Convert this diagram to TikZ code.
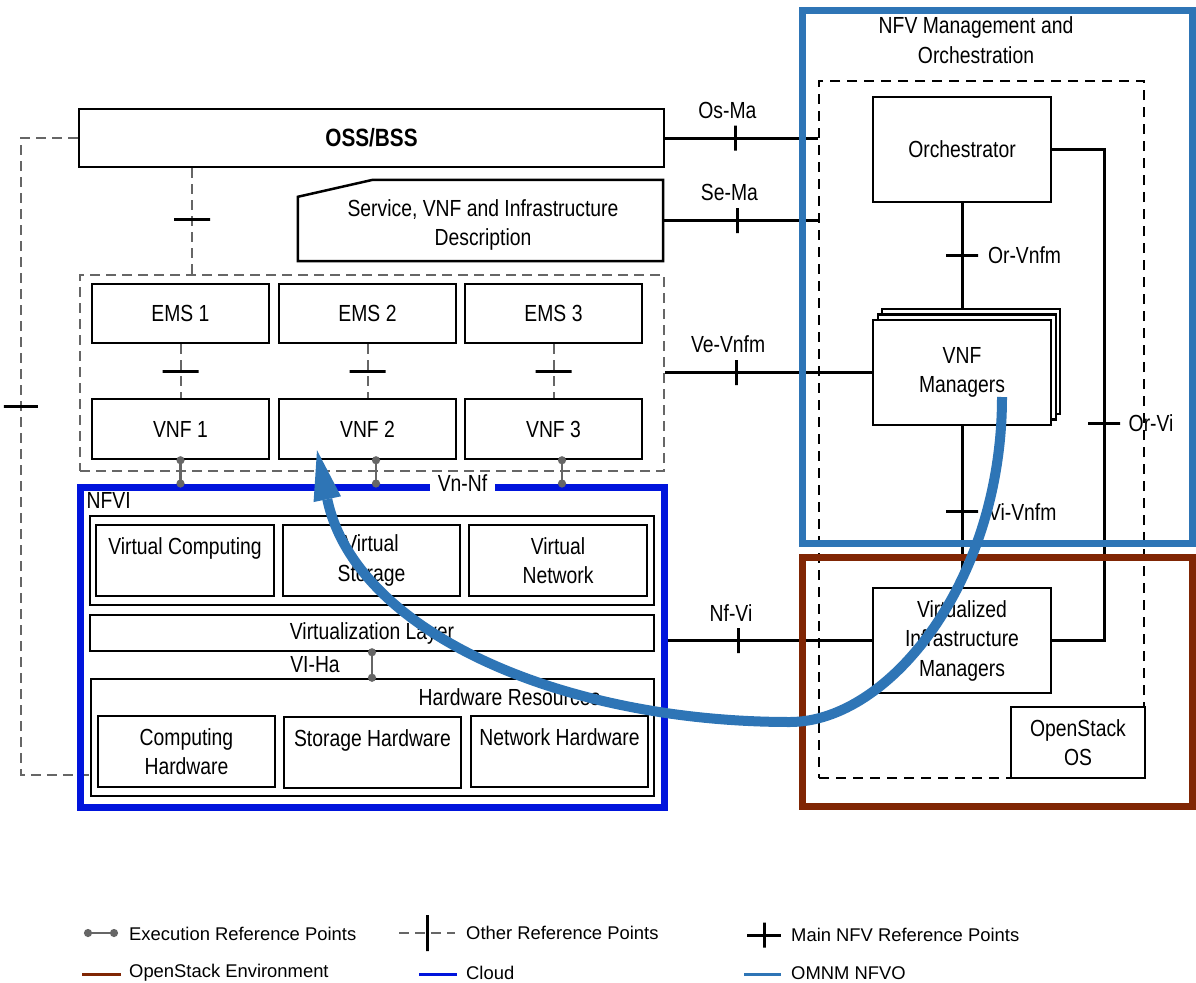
\documentclass[tikz,border=0pt]{standalone}
\usepackage{fontspec}
\setmainfont{Liberation Sans}[FakeStretch=0.83]
\newfontfamily\legendfont{Liberation Sans}
\usetikzlibrary{arrows.meta}
\definecolor{cloudblue}{RGB}{0,20,220}
\definecolor{nfvoblue}{RGB}{46,117,182}
\definecolor{ostkbrown}{RGB}{128,38,4}
\definecolor{refgray}{RGB}{102,102,102}
\tikzset{
  box/.style={draw, line width=2.5pt, fill=white, align=center, inner sep=0pt},
  sz/.style 2 args={minimum width=#1, minimum height=#2},
  frame/.style={draw=#1, line width=7pt, inner sep=0pt},
  mainref/.style={line width=3pt},
  otherref/.style={draw=refgray, line width=2pt, dash pattern=on 10pt off 6pt},
  execref/.style={draw=refgray, line width=2.5pt, {Circle[length=8pt]}-{Circle[length=8pt]}, shorten <=-4pt, shorten >=-4pt},
  vtick/.style={draw=black, solid, line width=3pt, minimum width=0pt, minimum height=25pt, inner sep=0pt},
  htick/.style={draw=black, solid, line width=3pt, minimum width=32pt, minimum height=0pt, inner sep=0pt},
  lbl/.style={inner sep=0pt},
  reflbl/.style={lbl, label distance=4pt, xshift=-8pt},
}
\begin{document}
\begin{tikzpicture}[x=1pt,y=-1pt,font=\fontsize{23.3}{29.5}\selectfont]
\useasboundingbox (0,0) rectangle (1196,982);
% OSS/BSS and descriptors
\node[box, sz={585pt}{58pt}] (oss) at (371.5,138) {\fontsize{25}{29}\selectfont\bfseries OSS/BSS};
\node[lbl, sz={365pt}{81pt}] (svd) at (480.5,220.5) {};
\draw[line width=2.5pt] ([yshift=-17pt]svd.north west) -- ([xshift=75pt]svd.north west) -- (svd.north east) -- (svd.south east) -- (svd.south west) -- cycle;
\node[lbl, align=center] (svdtxt) at (483,225) {Service, VNF and Infrastructure\\Description};

% EMS / VNF group
\node[otherref, sz={584pt}{196pt}] (emsg) at (372,373) {};
\foreach \i/\x in {1/180.5,2/367.5,3/553.5}{
  \node[box, sz={177pt}{59pt}] (ems\i) at (\x,313.5) {EMS \i};
  \node[box, sz={177pt}{60pt}] (vnf\i) at (\x,429) {VNF \i};
  \draw[otherref] (ems\i) -- node[htick, sz={36pt}{0pt}] {} (vnf\i);
}
\coordinate (ossdn) at ([xshift=-179.5pt]oss.south);
\draw[otherref] (ossdn) -- node[htick, sz={36pt}{0pt}, pos=0.48] {} (ossdn |- emsg.north);

% NFVI
\node[draw, line width=2.5pt, sz={564pt}{89pt}] (vgrp) at (372,560.5) {};
\node[box, sz={178pt}{71pt}] (vcomp) at (185,560.5) {Virtual Computing\\~};
\node[box, sz={177pt}{71pt}] (vstor) at (371.5,560.5) {Virtual\\Storage};
\node[box, sz={178pt}{71pt}] (vnet) at (558,560.5) {Virtual\\Network};
\node[box, sz={564pt}{36pt}] (vlayer) at (372,633) {Virtualization Layer};
\node[box, sz={563pt}{117pt}] (hwres) at (372.5,737.5) {};
\node[lbl] (hwlbl) at (509.5,697) {Hardware Resources};
\node[box, sz={177pt}{71pt}] (chw) at (186.5,751.5) {Computing\\Hardware};
\node[box, sz={177pt}{71pt}] (shw) at (372.5,752.5) {Storage Hardware\\~};
\node[box, sz={177pt}{71pt}] (nhw) at (559.5,751.5) {Network Hardware\\~};
\draw[execref] (vlayer.south) -- node[lbl, left=31pt] (viha) {VI-Ha} (vlayer.south |- hwres.north);

\draw[otherref] (oss.west) -- ++(-57,0) coordinate (lft) |- ([yshift=-37.5pt]hwres.west);
\node[htick, sz={34pt}{0pt}] (ltick) at (lft |- 0,406) {};

\node[frame=cloudblue, sz={584pt}{320pt}] (nfvi) at (372,647) {};
\node[lbl, anchor=north west] (nfvilbl) at ([xshift=10pt,yshift=-9pt]nfvi.north west) {NFVI};
\foreach \i/\d in {1/0,2/8.5,3/8.5}{
  \draw[execref] ([xshift=\d pt]vnf\i.south) coordinate (ex\i) -- (ex\i |- nfvi.north);
}
\node[lbl, fill=white, minimum width=65pt] (vnnf) at (462.5,483) {Vn-Nf};

% MANO
\node[draw, line width=2.5pt, dash pattern=on 10pt off 7pt, sz={325pt}{697pt}] (mano) at (981.5,429.5) {};
\node[lbl, align=center] (manottl) at (976,40) {NFV Management and\\Orchestration};
\node[box, sz={178pt}{105pt}] (orch) at (962,149.5) {Orchestrator};
\node[box, sz={178pt}{105pt}] (vnfm3) at (971,361.5) {};
\node[box, sz={178pt}{105pt}] (vnfm2) at (967,367) {};
\node[box, sz={178pt}{105pt}] (vnfm) at (962,372.5) {VNF\\Managers};
\node[box, sz={178pt}{105pt}] (vim) at (962,640.5) {Virtualized\\Infrastructure\\Managers};
\node[box, sz={134pt}{71pt}] (osos) at (1078,742.5) {OpenStack\\OS};

% main reference points
\draw[mainref] (oss.east) -- node[vtick, pos=0.46, label={[reflbl]above:Os-Ma}] {} (oss.east -| mano.west);
\draw[mainref] (svd.east) -- node[vtick, pos=0.48, label={[reflbl]above:Se-Ma}] {} (svd.east -| mano.west);
\draw[mainref] (vnfm.west -| emsg.east) -- node[vtick, pos=0.344, label={[reflbl]above:Ve-Vnfm}] {} (vnfm.west);
\draw[mainref] (vim.west -| nfvi.east) -- node[vtick, pos=0.35, label={[reflbl]above:Nf-Vi}] {} (vim.west);
\draw[mainref] (orch.south) -- node[htick, pos=0.5, label={[lbl, label distance=7pt]right:Or-Vnfm}] {} (orch.south |- vnfm3.north);
\draw[mainref] (vnfm.south) -- node[htick, pos=0.534, label={[lbl, label distance=7pt]right:Vi-Vnfm}] {} (vim.north);
\coordinate (orvi) at (1104,423);
\draw[mainref] (orch.east) -| (orvi) |- (vim.east);
\node[htick, label={[lbl, label distance=7pt]right:Or-Vi}] (orvitick) at (orvi) {};

% frames
\node[frame=nfvoblue, sz={390pt}{532pt}] (nfvo) at (997,277) {};
\node[frame=ostkbrown, sz={390pt}{249pt}] (ostk) at (997,681.5) {};

% OMNM arrow
\coordinate (arrS) at ([xshift=40pt,yshift=-24.5pt]vnfm.center);
\coordinate (arrM) at (790,722);
\coordinate (arrE) at ([xshift=-50.5pt,yshift=10pt]vnf2.south);
\draw[nfvoblue, line width=10pt, -{Triangle[width=28pt,length=50pt,line width=0pt]}] (arrS) .. controls +(0,183) and +(100,0) .. (arrM) .. controls +(-230,0) and +(38,181) .. (arrE);

% legend
\begin{scope}[font=\legendfont\fontsize{18.4}{21}\selectfont]
  \draw[execref] (88,933) coordinate (lea) -- (114,933) coordinate (leb);
  \node[lbl, anchor=west] (lgexec) at (129,934) {Execution Reference Points};
  \draw[otherref] (399,933) coordinate (loa) -- node[vtick, minimum height=36pt] {} (455,933) coordinate (lob);
  \node[lbl, anchor=west] (lgother) at (466,933) {Other Reference Points};
  \draw[mainref] (747,935) coordinate (lma) -- node[vtick] {} (781,935) coordinate (lmb);
  \node[lbl, anchor=west] (lgmain) at (791,935) {Main NFV Reference Points};
  \draw[ostkbrown, line width=3pt] (82,974) coordinate (lba) -- (121,974) coordinate (lbb);
  \node[lbl, anchor=west] (lgostk) at (129,973) {OpenStack Environment};
  \draw[cloudblue, line width=3pt] (419,974) coordinate (lca) -- (457,974) coordinate (lcb);
  \node[lbl, anchor=west] (lgcloud) at (466,973) {Cloud};
  \draw[nfvoblue, line width=3pt] (744,974) coordinate (lna) -- (781,974) coordinate (lnb);
  \node[lbl, anchor=west] (lgnfvo) at (791,973) {OMNM NFVO};
\end{scope}
\end{tikzpicture}
\end{document}
